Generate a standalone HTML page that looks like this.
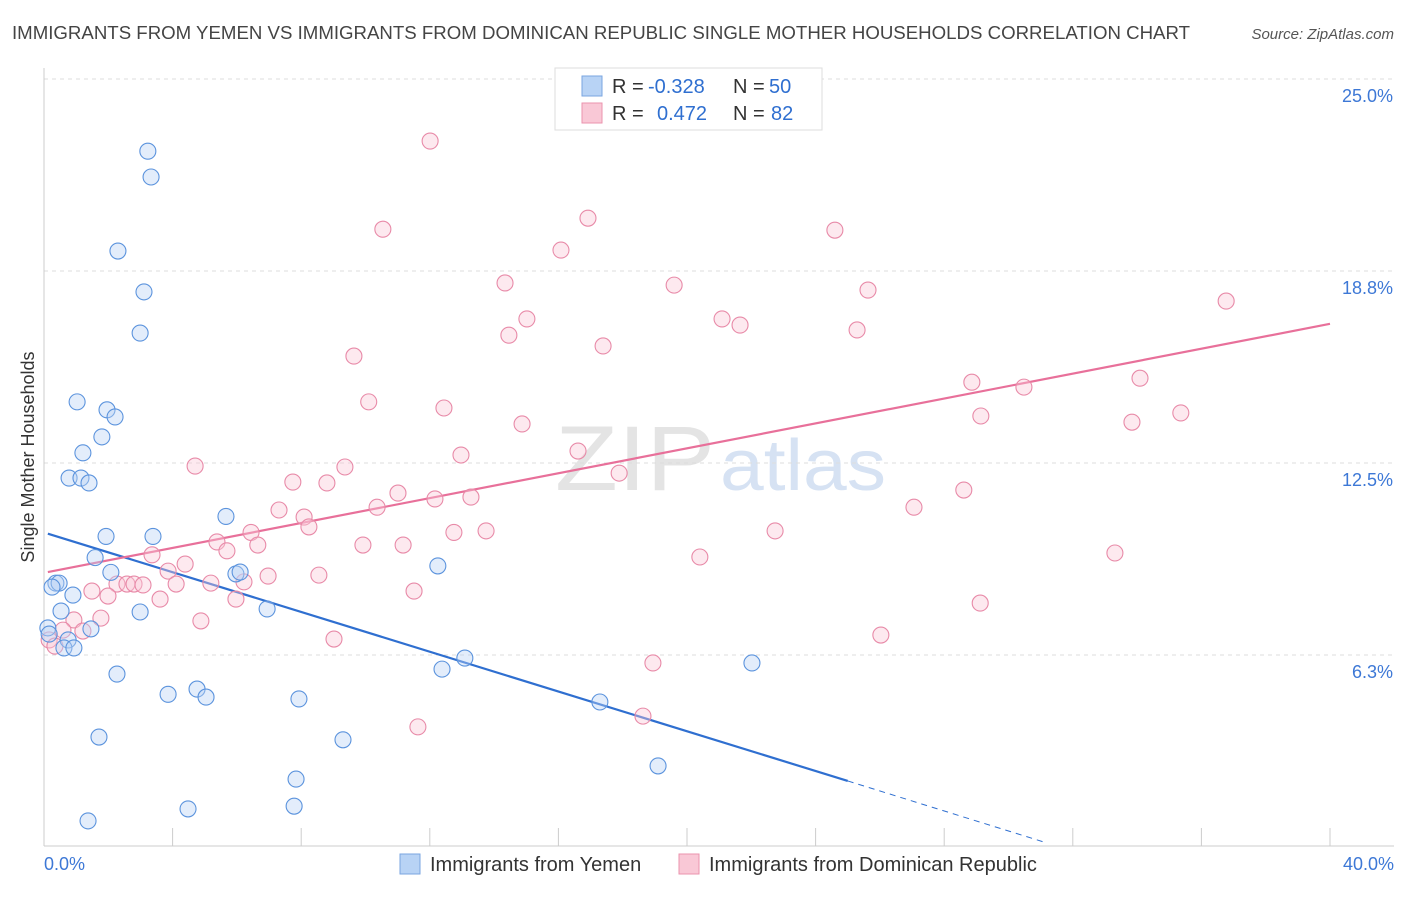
<!DOCTYPE html>
<html><head><meta charset="utf-8"><style>
body{margin:0;background:#fff;font-family:"Liberation Sans",sans-serif}
svg text{font-family:"Liberation Sans",sans-serif}
</style></head><body>
<svg id="chart" width="1406" height="892" viewBox="0 0 1406 892" xmlns="http://www.w3.org/2000/svg">
<text x="12" y="39" font-size="18" fill="#444" textLength="1178" lengthAdjust="spacingAndGlyphs">IMMIGRANTS FROM YEMEN VS IMMIGRANTS FROM DOMINICAN REPUBLIC SINGLE MOTHER HOUSEHOLDS CORRELATION CHART</text>
<text x="1394" y="39" font-size="15" fill="#555" text-anchor="end" font-style="italic">Source: ZipAtlas.com</text>
<text x="555" y="490" font-size="92" fill="#e4e4e4" font-family="Liberation Serif" textLength="160" lengthAdjust="spacingAndGlyphs">ZIP</text>
<text x="720" y="490" font-size="72" fill="#d6e2f3" textLength="166" lengthAdjust="spacingAndGlyphs">atlas</text>
<g id="grid"></g><g id="axes"></g><g id="lines"></g><g id="pts"></g>
<text transform="translate(34,457) rotate(-90)" font-size="18" fill="#333" text-anchor="middle">Single Mother Households</text>
<g>
<rect x="555" y="68" width="267" height="62" fill="#fff" stroke="#ddd"/>
<rect x="582" y="76" width="20" height="20" fill="#b8d3f5" stroke="#7aa6e0"/>
<rect x="582" y="103" width="20" height="20" fill="#f9c8d6" stroke="#eb93ae"/>
<text x="612" y="93" font-size="20" fill="#333">R =</text><text x="648" y="93" font-size="20" fill="#2f6fd0">-0.328</text>
<text x="733" y="93" font-size="20" fill="#333">N =</text><text x="769" y="93" font-size="20" fill="#2f6fd0">50</text>
<text x="612" y="120" font-size="20" fill="#333">R =</text><text x="657" y="120" font-size="20" fill="#2f6fd0">0.472</text>
<text x="733" y="120" font-size="20" fill="#333">N =</text><text x="771" y="120" font-size="20" fill="#2f6fd0">82</text>
</g>
<g>
<rect x="400" y="854" width="20" height="20" fill="#b8d3f5" stroke="#7aa6e0"/>
<text x="430" y="871" font-size="20" fill="#333">Immigrants from Yemen</text>
<rect x="679" y="854" width="20" height="20" fill="#f9c8d6" stroke="#eb93ae"/>
<text x="709" y="871" font-size="20" fill="#333">Immigrants from Dominican Republic</text>
</g>
</svg>
<script>
const yTicks=[6.25,12.5,18.75,25];
const yTickLabels=["6.3%","12.5%","18.8%","25.0%"];
const xLabels=["0.0%","40.0%"];
const blueX=[3.23,3.33,2.30,3.11,2.99,1.03,1.96,2.21,1.80,1.21,0.78,1.15,1.40,5.66,1.93,3.39,1.59,2.08,5.97,6.10,12.25,0.37,0.47,0.25,0.90,2.99,6.94,0.53,0.12,1.46,0.16,0.75,0.62,0.93,13.09,12.38,22.02,2.27,3.86,4.76,5.04,7.93,17.29,1.71,9.30,7.84,19.10,4.48,7.78,1.37];
const blueY=[22.65,21.81,19.40,18.07,16.73,14.49,14.23,14.00,13.35,12.83,12.01,12.01,11.85,10.76,10.11,10.11,9.42,8.94,8.89,8.95,9.15,8.59,8.59,8.46,8.20,7.65,7.75,7.68,7.13,7.10,6.93,6.74,6.48,6.48,6.15,5.79,5.99,5.63,4.97,5.14,4.88,4.82,4.72,3.58,3.49,2.21,2.64,1.24,1.33,0.85];
const pinkX=[12.01,16.92,10.54,16.08,24.60,14.34,19.60,25.63,36.77,15.02,21.09,21.65,25.29,14.46,17.39,9.64,10.10,12.44,28.86,30.48,34.09,35.36,29.14,33.84,14.87,16.61,12.97,4.70,9.36,17.89,7.74,8.80,11.01,12.16,13.28,28.61,10.36,7.31,8.09,8.24,27.06,6.44,12.75,13.75,22.74,5.38,9.92,11.17,6.65,5.69,3.36,20.40,33.31,4.39,3.86,8.55,6.97,6.22,2.27,2.58,2.80,3.08,4.11,5.19,11.51,1.49,1.99,3.61,5.97,4.88,1.77,0.93,0.59,1.21,26.03,29.12,9.02,0.16,0.34,18.94,18.63,11.63];
const pinkY=[22.98,20.47,20.11,19.43,20.08,18.36,18.29,18.13,17.77,17.19,17.19,16.99,16.83,16.66,16.31,15.98,14.49,14.29,15.13,14.97,15.26,14.13,14.03,13.83,13.77,12.89,12.76,12.40,12.37,12.17,11.88,11.85,11.52,11.33,11.39,11.62,11.06,10.97,10.74,10.42,11.06,10.24,10.24,10.29,10.29,9.93,9.83,9.83,9.83,9.64,9.51,9.44,9.57,9.21,8.98,8.85,8.82,8.63,8.56,8.56,8.56,8.53,8.56,8.59,8.33,8.33,8.17,8.07,8.07,7.36,7.45,7.39,7.06,7.03,6.90,7.94,6.77,6.74,6.54,5.99,4.26,3.91];
const blueFit=[[0.12,10.2],[25.0,2.15]], blueDash=[[25.0,2.15],[31.2,0.13]];
const pinkFit=[[0.12,8.95],[40,17.03]];
const NS="http://www.w3.org/2000/svg";
const xs=v=>44+v*32.15, ys=v=>847-v*30.72;
function mk(t,a,p){const e=document.createElementNS(NS,t);for(const k in a)e.setAttribute(k,a[k]);p.appendChild(e);return e;}
const g=document.getElementById('grid'),ax=document.getElementById('axes'),ln=document.getElementById('lines'),pt=document.getElementById('pts');
yTicks.forEach((v,i)=>{const l=mk('line',{x1:44,x2:1394,y1:ys(v),y2:ys(v),stroke:'#ddd','stroke-dasharray':'4,4'},g);

const t=mk('text',{x:1393,y:ys(v)+23,'font-size':18,fill:'#3d78d6','text-anchor':'end'},ax);t.textContent=yTickLabels[i];
});
const yl=mk('line',{x1:44,x2:44,y1:68,y2:846,stroke:'#ccc'},ax);
const xl=mk('line',{x1:44,x2:1394,y1:846,y2:846,stroke:'#ccc'},ax);
for(let i=0;i<=10;i++){const tk=mk('line',{x1:xs(i*4),x2:xs(i*4),y1:828,y2:846,stroke:'#ccc'},ax);
}
[[0,'start',44],[1,'end',1394]].forEach(([i,a,x])=>{const t=mk('text',{x:x,y:870,'font-size':18,fill:'#3d78d6','text-anchor':a},ax);t.textContent=xLabels[i];
});
function dots(X,Y,fill,stroke,name){X.forEach((x,i)=>{const c=mk('circle',{cx:xs(x),cy:ys(Y[i]),r:8,fill:fill,'fill-opacity':0.4,stroke:stroke,'stroke-width':1.1},pt);
});}
dots(pinkX,pinkY,'#f9c8d6','#e88aa8','pink-point');
dots(blueX,blueY,'#b8d3f5','#5b93dd','blue-point');
function line(p,col,dash,name){const l=mk('line',{x1:xs(p[0][0]),y1:ys(p[0][1]),x2:xs(p[1][0]),y2:ys(p[1][1]),stroke:col,'stroke-width':dash?1:2.2},ln);
if(dash)l.setAttribute('stroke-dasharray','6,5');}
line(blueFit,'#2f6fd0',false,'yemen-trendline');line(blueDash,'#2f6fd0',true,'yemen-trendline-extension');
line(pinkFit,'#e8709a',false,'dominican-trendline');
</script>
</body></html>
